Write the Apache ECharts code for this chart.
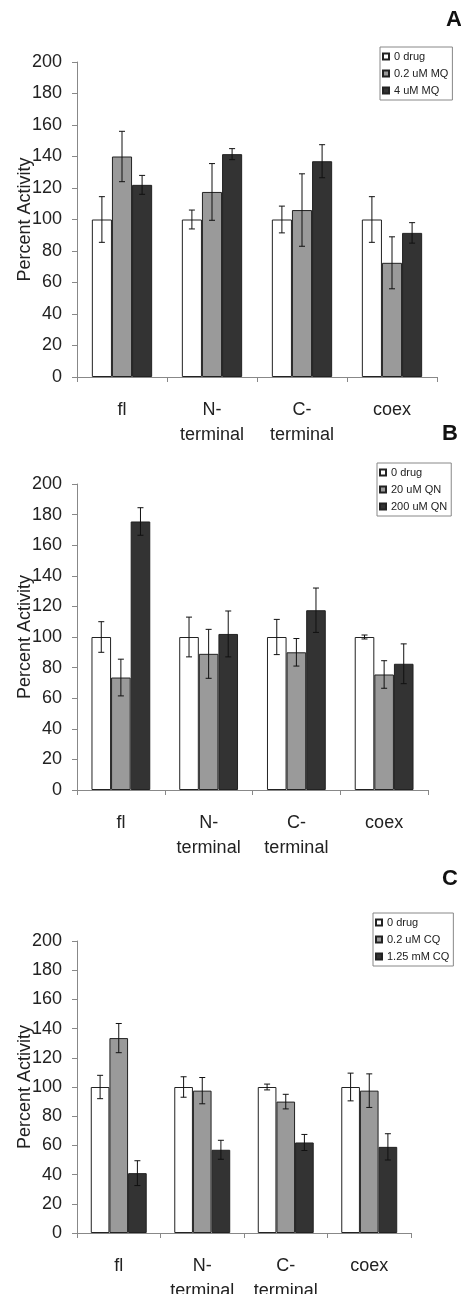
<!DOCTYPE html>
<html>
<head>
<meta charset="utf-8">
<script src="https://cdn.jsdelivr.net/npm/echarts@6/dist/echarts.min.js"></script>
<style>
  html, body { margin: 0; padding: 0; background: #fff; }
  #chart { width: 461px; height: 1294px; }
</style>
</head>
<body>
<div id="chart"></div>
<script>
// categories shared by all three panels
const categories = ['fl', 'N-\nterminal', 'C-\nterminal', 'coex'];
const yTicks = { min: 0, max: 200, interval: 20 };

// panel A - mefloquine
const mqNames = ['0 drug', '0.2 uM MQ', '4 uM MQ'];
const mqValues = [[100, 100, 100, 100], [140, 117.5, 106, 72.5], [122, 141.5, 137, 91.5]];
const mqErrors = [[14.5, 6, 8.5, 14.5], [16, 18, 23, 16.5], [6, 3.5, 10.5, 6.5]];

// panel B - quinine
const qnNames = ['0 drug', '20 uM QN', '200 uM QN'];
const qnValues = [[100, 100, 100, 100], [73.5, 89, 90, 75.5], [175.5, 102, 117.5, 82.5]];
const qnErrors = [[10, 13, 11.5, 1.3], [12, 16, 9, 9], [9, 15, 14.5, 13]];

// panel C - chloroquine
const cqNames = ['0 drug', '0.2 uM CQ', '1.25 mM CQ'];
const cqValues = [[100, 100, 100, 100], [133.5, 97.5, 90, 97.5], [41, 57, 62, 59]];
const cqErrors = [[8, 7, 2, 9.5], [10, 9, 5, 11.5], [8.5, 6.5, 5.5, 9]];

const panelLetters = ['A', 'B', 'C'];

const FONT = '"Liberation Sans", Arial, sans-serif';
const barColors = ['#ffffff', '#9a9a9a', '#333333'];
const CAT_GAP = 0.33;

// layout of each panel (pixels)
const grids = [
  { left: 77, top: 62, width: 360, height: 315 },
  { left: 77, top: 484, width: 351, height: 306 },
  { left: 77, top: 941, width: 334, height: 292 }
];
const legendPos = [
  { left: 380, top: 47 },
  { left: 377, top: 463 },
  { left: 373, top: 913 }
];
const letterPos = [
  { left: 446, top: 9 },
  { left: 442, top: 423 },
  { left: 442, top: 868 }
];

const panels = [
  { names: mqNames, values: mqValues, errors: mqErrors },
  { names: qnNames, values: qnValues, errors: qnErrors },
  { names: cqNames, values: cqValues, errors: cqErrors }
];

// error bar drawn at the centre of its bar
function renderError(params, api) {
  const cat = api.value(0);
  const lo = api.coord([cat, api.value(1)]);
  const hi = api.coord([cat, api.value(2)]);
  const band = api.size([1, 0])[0];
  const bw = band * (1 - CAT_GAP) / 3;
  const cx = lo[0] + (api.value(3) - 1) * bw;
  const cap = 3;
  const style = { stroke: '#111', lineWidth: 1 };
  return {
    type: 'group',
    children: [
      { type: 'line', shape: { x1: cx, y1: lo[1], x2: cx, y2: hi[1] }, style: style },
      { type: 'line', shape: { x1: cx - cap, y1: lo[1], x2: cx + cap, y2: lo[1] }, style: style },
      { type: 'line', shape: { x1: cx - cap, y1: hi[1], x2: cx + cap, y2: hi[1] }, style: style }
    ]
  };
}

const option = {
  backgroundColor: '#fff',
  animation: false,
  textStyle: { fontFamily: FONT },
  title: [],
  legend: [],
  grid: [],
  xAxis: [],
  yAxis: [],
  series: []
};

panels.forEach((p, k) => {
  option.title.push({
    text: panelLetters[k],
    left: letterPos[k].left,
    top: letterPos[k].top,
    padding: 0,
    textStyle: { fontFamily: FONT, fontSize: 22, fontWeight: 'bold', color: '#111' }
  });

  option.legend.push({
    data: p.names,
    orient: 'vertical',
    left: legendPos[k].left,
    top: legendPos[k].top,
    padding: [3, 4, 3, 2],
    itemGap: 4,
    itemWidth: 6,
    itemHeight: 6,
    icon: 'rect',
    borderColor: '#888',
    borderWidth: 1,
    selectedMode: false,
    textStyle: { fontFamily: FONT, fontSize: 11, color: '#222', lineHeight: 13 }
  });

  option.grid.push(Object.assign({ containLabel: false, outerBoundsMode: 'none' }, grids[k]));

  option.xAxis.push({
    type: 'category',
    gridIndex: k,
    data: categories,
    axisLine: { lineStyle: { color: '#888', width: 1 } },
    axisTick: { show: true, length: 5, lineStyle: { color: '#888' } },
    axisLabel: { fontFamily: FONT, fontSize: 18, color: '#222', margin: 21, lineHeight: 25, interval: 0 }
  });

  option.yAxis.push({
    type: 'value',
    gridIndex: k,
    min: yTicks.min,
    max: yTicks.max,
    interval: yTicks.interval,
    name: 'Percent Activity',
    nameLocation: 'middle',
    nameGap: 43,
    nameMoveOverlap: false,
    nameTextStyle: { fontFamily: FONT, fontSize: 18, color: '#222' },
    axisLine: { show: true, lineStyle: { color: '#888', width: 1 } },
    axisTick: { show: true, length: 5, lineStyle: { color: '#888' } },
    splitLine: { show: false },
    axisLabel: { fontFamily: FONT, fontSize: 18, color: '#222', margin: 15 }
  });

  p.names.forEach((name, i) => {
    option.series.push({
      name: name,
      type: 'bar',
      xAxisIndex: k,
      yAxisIndex: k,
      barGap: 0,
      barCategoryGap: (CAT_GAP * 100) + '%',
      itemStyle: { color: barColors[i], borderColor: '#222', borderWidth: 1 },
      data: p.values[i]
    });
  });

  p.names.forEach((name, i) => {
    const errData = p.values[i].map((v, c) => [c, v - p.errors[i][c], v + p.errors[i][c], i]);
    option.series.push({
      type: 'custom',
      xAxisIndex: k,
      yAxisIndex: k,
      z: 5,
      renderItem: renderError,
      encode: { x: 0, y: [1, 2] },
      data: errData
    });
  });
});

const myChart = echarts.init(document.getElementById('chart'));
myChart.setOption(option);
</script>
</body>
</html>
